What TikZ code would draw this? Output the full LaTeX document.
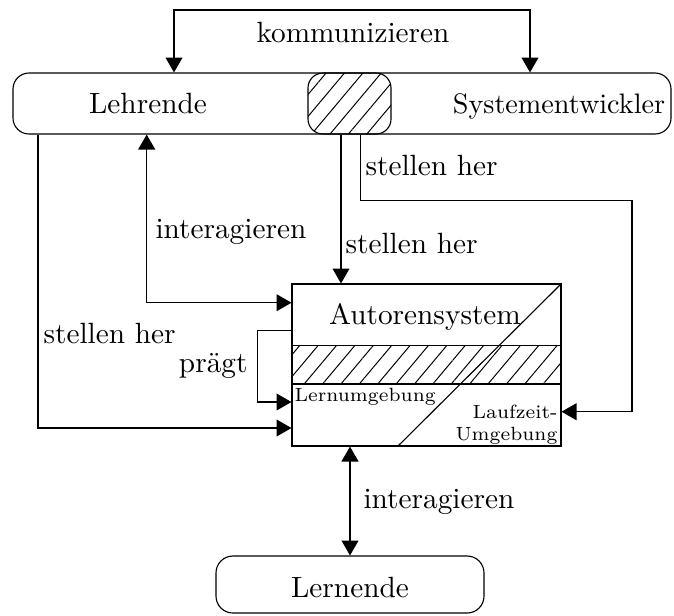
\documentclass[tikz,border=0pt]{standalone}
\usetikzlibrary{arrows.meta,patterns.meta,fit}
\begin{document}
\begin{tikzpicture}[x=0.355pt,y=-0.355pt,line width=0.4pt,
  >={Triangle[length=5.3pt,width=6pt]},
  frame/.style={draw,inner sep=0pt},
  hatch/.style={pattern={Lines[angle=50,distance=5pt,line width=0.35pt]}},
  txt/.style={inner sep=0pt,font=\fontsize{10.4}{12}\selectfont},
  small/.style={inner sep=0pt,font=\fontsize{6.8}{8}\selectfont}]
\useasboundingbox (0,0) rectangle (674,615);

% actors
\node[frame,rounded corners=5.7pt,fit={(13,73) (671,134)}] (team) {};
\node[frame,hatch,rounded corners=5.3pt,fit={(308,73) (391,134)}] (shared) {};
\node[txt,anchor=base] (lehr) at (148,113) {Lehrende};
\node[txt,anchor=base,font=\fontsize{10}{12}\selectfont] (entw) at (559,113) {Systementwickler};
\node[frame,rounded corners=6pt,fit={(216,556) (484,613)}] (lern) {};
\node[txt,anchor=base] (lerntxt) at (350,597) {Lernende};

% authoring system
\node[frame,fit={(292,284) (561,446)}] (sys) {};
\node[frame,hatch,fit={(292,345.5) (561,384)}] (band) {};
\coordinate (diag) at (398,446);
\draw (diag) -- (sys.north east);
\node[txt,anchor=base] (auto) at (425,324) {Autorensystem};
\node[small,anchor=base west] (lu) at (294,401) {Lernumgebung};
\node[small,anchor=base east] (lz1) at (558,418) {Laufzeit-};
\node[small,anchor=base east] (lz2) at (558,440) {Umgebung};

% connectors
\draw[<->] (team.north -| 174,0) -- (174,10) -- (530,10) -- (team.north -| 530,0);
\node[txt,anchor=base] (komm) at (353,42) {kommunizieren};

\draw[<->] (team.south -| 146.7,0) -- (146.7,302.7) -- (sys.west |- 0,302.7);
\node[txt,anchor=base west] (ia1) at (155,238) {interagieren};

\draw[->] (team.south -| 38,0) -- (38,428) -- (sys.west |- 0,428);
\node[txt,anchor=base west] (sh1) at (43,343) {stellen her};

\draw[->] (shared.south -| 341,0) -- (sys.north -| 341,0);
\node[txt,anchor=base west] (sh2) at (345,253) {stellen her};

\draw[->] (shared.south -| 360.7,0) -- (360.7,200.7) -- (632,200.7) -- (632,411.7) -- (sys.east |- 0,411.7);
\node[txt,anchor=base west] (sh3) at (365,175) {stellen her};

\draw[->] (sys.west |- 0,330.7) -- (257.3,330.7) -- (257.3,402) -- (sys.west |- 0,402);
\node[txt,anchor=base east] (pr) at (248,372) {prägt};

\draw[<->] (sys.south -| 350,0) -- (lern.north -| 350,0);
\node[txt,anchor=base west] (ia2) at (363,508) {interagieren};
\end{tikzpicture}
\end{document}
